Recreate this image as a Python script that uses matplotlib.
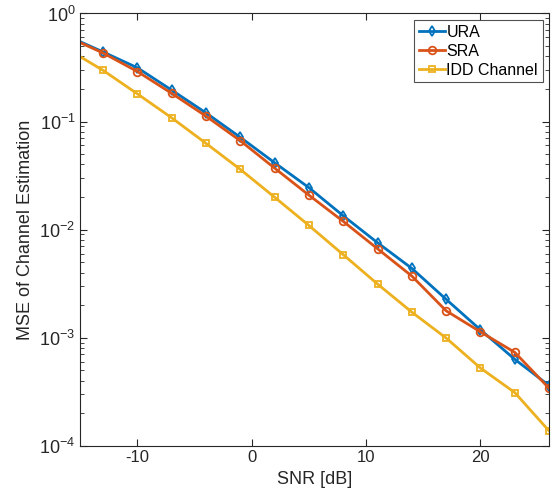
import matplotlib
matplotlib.use("Agg")
import matplotlib.pyplot as plt
from matplotlib.ticker import LogLocator, FixedLocator

plt.rcParams['font.family'] = ['Liberation Sans', 'DejaVu Sans']
plt.rcParams['mathtext.fontset'] = 'custom'
plt.rcParams['mathtext.rm'] = 'Liberation Sans'
plt.rcParams['mathtext.it'] = 'Liberation Sans'
plt.rcParams['axes.unicode_minus'] = False

snr = [-16, -13, -10, -7, -4, -1, 2, 5, 8, 11, 14, 17, 20, 23, 26]
ura = [0.61, 0.44, 0.314, 0.195, 0.12, 0.0713, 0.0415, 0.0244, 0.0134,
       0.00755, 0.00437, 0.00226, 0.00118, 0.00063, 0.00036]
sra = [0.60, 0.43, 0.29, 0.182, 0.112, 0.0663, 0.037, 0.0208, 0.0119,
       0.00664, 0.00371, 0.00177, 0.00113, 0.00073, 0.00034]
idd = [0.46, 0.297, 0.18, 0.108, 0.0627, 0.036, 0.0199, 0.0109, 0.00585,
       0.00313, 0.00172, 0.00099, 0.000523, 0.00031, 0.000137]
labels = ['URA', 'SRA', 'IDD Channel']
xticks = [-10, 0, 10, 20]

c_ura = '#0072BD'
c_sra = '#D95319'
c_idd = '#EDB120'
axc = '#262626'

fig = plt.figure(figsize=(5.54, 4.99), dpi=100)
ax = fig.add_axes([0.145, 0.107, 0.846, 0.866])

ax.semilogy(snr, ura, color=c_ura, lw=2, marker='d', ms=5, mfc='none', mew=1.3, label=labels[0])
ax.semilogy(snr, sra, color=c_sra, lw=2, marker='o', ms=5.5, mfc='none', mew=1.3, label=labels[1])
ax.semilogy(snr, idd, color=c_idd, lw=2, marker='s', ms=4.5, mfc='none', mew=1.3, label=labels[2])

ax.set_xlim(-15, 26)
ax.set_ylim(1e-4, 1)
ax.xaxis.set_major_locator(FixedLocator(xticks))
ax.yaxis.set_major_locator(LogLocator(base=10, numticks=10))
ax.yaxis.set_minor_locator(LogLocator(base=10, subs=range(2, 10), numticks=20))

ax.tick_params(which='both', direction='in', top=True, right=True, colors=axc,
               labelcolor=axc)
ax.tick_params(axis='x', labelsize=12)
ax.tick_params(axis='y', labelsize=13)
ax.tick_params(which='major', length=5)
ax.tick_params(which='minor', length=3)
for s in ax.spines.values():
    s.set_color(axc)
    s.set_linewidth(0.8)

ax.set_xlabel('SNR [dB]', fontsize=13, color=axc)
ax.set_ylabel('MSE of Channel Estimation', fontsize=13, color=axc)

leg = ax.legend(loc='upper right', fontsize=11.5, frameon=True, fancybox=False,
                edgecolor=axc, handlelength=1.6, handletextpad=0.1,
                borderpad=0.3, labelspacing=0.25, borderaxespad=0.4)
leg.get_frame().set_linewidth(0.8)

fig.savefig('out.png', dpi=100)
